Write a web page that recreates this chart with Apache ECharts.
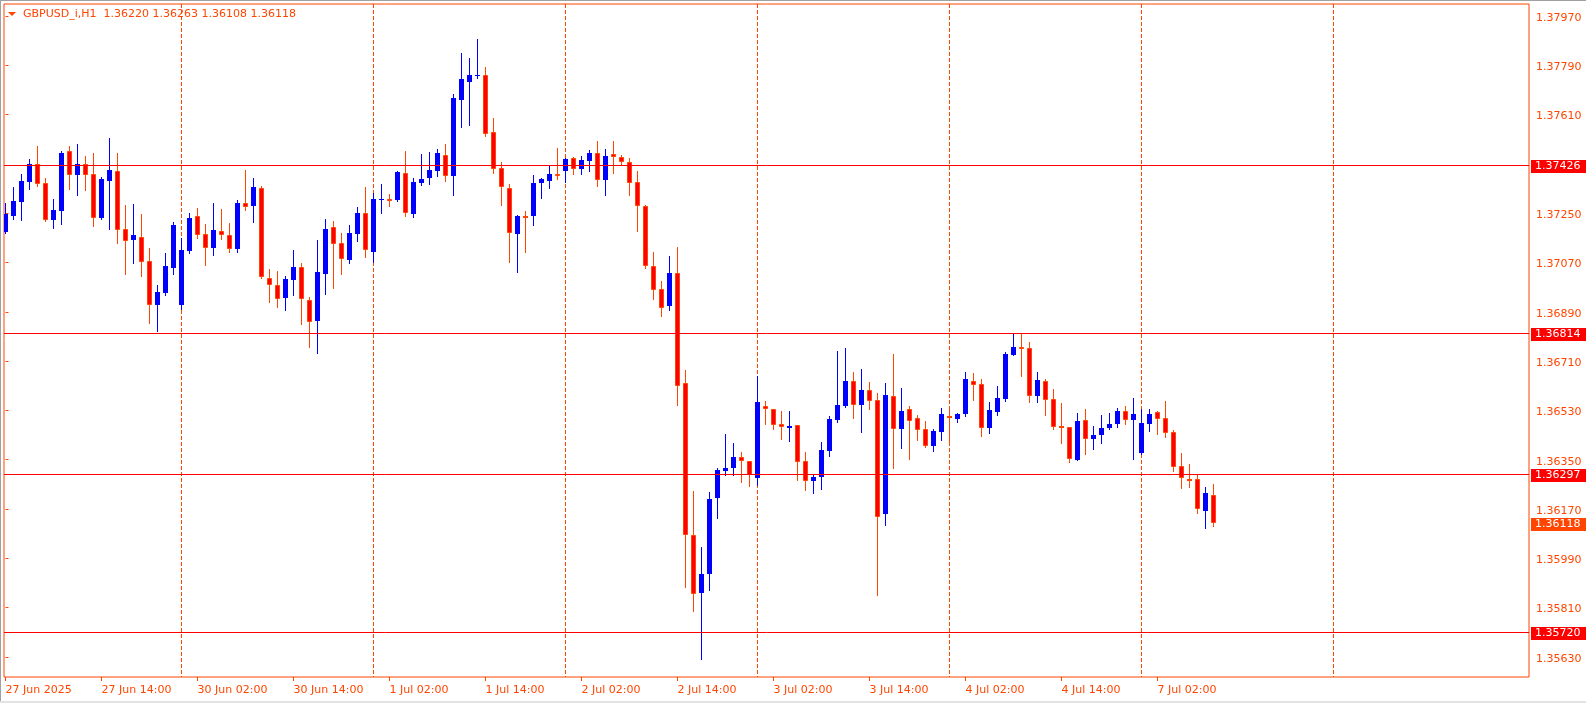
<!DOCTYPE html>
<html><head><meta charset="utf-8">
<script src="https://cdn.jsdelivr.net/npm/echarts@6/dist/echarts.min.js"></script>
<style>html,body{margin:0;padding:0;background:#fff;overflow:hidden}#c{width:1586px;height:703px;}</style>
</head><body><div id="c"></div>
<script>
const symbolName = 'GBPUSD_i,H1';
// hourly OHLC, bar 0 = 27 Jun 2025 02:00
const opens = [1.37181,1.37240,1.37291,1.37364,1.37430,1.37361,1.37226,1.37259,1.37478,1.37390,
1.37430,1.37394,1.37233,1.37368,1.37405,1.37193,1.37153,1.37164,1.37076,1.36915,
1.36959,1.37050,1.36915,1.37112,1.37240,1.37175,1.37124,1.37186,1.37171,1.37120,
1.37288,1.37277,1.37343,1.37014,1.36988,1.36942,1.37007,1.37054,1.36934,1.36857,
1.37029,1.37200,1.37142,1.37080,1.37175,1.37251,1.37110,1.37301,1.37302,1.37299,
1.37397,1.37248,1.37361,1.37379,1.37405,1.37463,1.37386,1.37664,1.37730,1.37754,
1.37755,1.37547,1.37416,1.37343,1.37175,1.37240,1.37240,1.37361,1.37368,1.37394,
1.37405,1.37452,1.37412,1.37441,1.37469,1.37373,1.37466,1.37455,1.37436,1.37364,
1.37277,1.37056,1.36975,1.36910,1.37032,1.36629,1.36075,1.35864,1.35933,1.36210,
1.36309,1.36320,1.36361,1.36345,1.36285,1.36546,1.36534,1.36480,1.36467,1.36476,
1.36345,1.36274,1.36288,1.36383,1.36495,1.36546,1.36638,1.36551,1.36605,1.36568,
1.36150,1.36583,1.36463,1.36536,1.36503,1.36462,1.36400,1.36452,1.36509,1.36499,
1.36517,1.36638,1.36627,1.36467,1.36525,1.36572,1.36734,1.36761,1.36758,1.36583,
1.36638,1.36572,1.36473,1.36470,1.36350,1.36495,1.36427,1.36442,1.36467,1.36482,
1.36528,1.36494,1.36376,1.36482,1.36525,1.36503,1.36452,1.36327,1.36280,1.36279,
1.36164,1.36220];
const highs = [1.37288,1.37346,1.37394,1.37448,1.37496,1.37379,1.37302,1.37478,1.37496,1.37503,
1.37459,1.37470,1.37383,1.37525,1.37470,1.37281,1.37284,1.37248,1.37124,1.36988,
1.37105,1.37218,1.37160,1.37251,1.37270,1.37211,1.37288,1.37266,1.37215,1.37299,
1.37408,1.37379,1.37350,1.37047,1.37040,1.37021,1.37116,1.37069,1.36945,1.37153,
1.37229,1.37222,1.37178,1.37207,1.37273,1.37346,1.37324,1.37357,1.37321,1.37405,
1.37478,1.37379,1.37467,1.37474,1.37485,1.37503,1.37686,1.37836,1.37817,1.37887,
1.37785,1.37598,1.37438,1.37357,1.37244,1.37259,1.37390,1.37379,1.37427,1.37489,
1.37452,1.37456,1.37459,1.37481,1.37514,1.37484,1.37514,1.37462,1.37451,1.37405,
1.37281,1.37107,1.37004,1.37092,1.37128,1.36676,1.36235,1.36030,1.36231,1.36320,
1.36443,1.36410,1.36377,1.36346,1.36656,1.36565,1.36535,1.36528,1.36528,1.36476,
1.36379,1.36293,1.36415,1.36510,1.36747,1.36758,1.36671,1.36682,1.36634,1.36594,
1.36630,1.36736,1.36612,1.36546,1.36514,1.36492,1.36462,1.36539,1.36546,1.36521,
1.36671,1.36667,1.36645,1.36561,1.36620,1.36744,1.36813,1.36813,1.36780,1.36671,
1.36645,1.36609,1.36557,1.36470,1.36521,1.36536,1.36473,1.36514,1.36521,1.36539,
1.36546,1.36576,1.36536,1.36536,1.36528,1.36565,1.36459,1.36375,1.36335,1.36297,
1.36251,1.36263];
const lows = [1.37178,1.37229,1.37226,1.37339,1.37350,1.37222,1.37196,1.37211,1.37339,1.37317,
1.37335,1.37205,1.37229,1.37193,1.37142,1.37029,1.37069,1.37021,1.36850,1.36820,
1.36952,1.37029,1.36901,1.37105,1.37161,1.37061,1.37098,1.37156,1.37109,1.37109,
1.37262,1.37218,1.37014,1.36926,1.36908,1.36897,1.36952,1.36846,1.36762,1.36740,
1.36956,1.36977,1.37029,1.37069,1.37149,1.37091,1.37072,1.37251,1.37277,1.37295,
1.37240,1.37237,1.37354,1.37357,1.37386,1.37368,1.37317,1.37565,1.37573,1.37744,
1.37533,1.37397,1.37281,1.37072,1.37036,1.37109,1.37207,1.37306,1.37343,1.37375,
1.37364,1.37394,1.37394,1.37405,1.37351,1.37318,1.37396,1.37425,1.37318,1.37186,
1.37049,1.36935,1.36873,1.36895,1.36548,1.35885,1.35799,1.35622,1.35874,1.36136,
1.36295,1.36294,1.36268,1.36255,1.36256,1.36481,1.36463,1.36426,1.36419,1.36277,
1.36241,1.36230,1.36244,1.36365,1.36489,1.36543,1.36503,1.36452,1.36536,1.35856,
1.36113,1.36321,1.36394,1.36354,1.36422,1.36397,1.36382,1.36422,1.36405,1.36489,
1.36510,1.36568,1.36437,1.36448,1.36514,1.36565,1.36733,1.36656,1.36561,1.36561,
1.36514,1.36462,1.36411,1.36343,1.36350,1.36372,1.36390,1.36412,1.36463,1.36471,
1.36482,1.36354,1.36371,1.36456,1.36445,1.36434,1.36307,1.36248,1.36252,1.36157,
1.36102,1.36108];
const closes = [1.37248,1.37295,1.37368,1.37430,1.37358,1.37225,1.37262,1.37471,1.37391,1.37430,
1.37391,1.37234,1.37375,1.37408,1.37187,1.37150,1.37171,1.37073,1.36916,1.36963,
1.37058,1.37207,1.37116,1.37233,1.37172,1.37124,1.37189,1.37172,1.37120,1.37288,
1.37274,1.37346,1.37018,1.36989,1.36938,1.37010,1.37054,1.36935,1.36853,1.37036,
1.37193,1.37139,1.37081,1.37178,1.37251,1.37117,1.37302,1.37303,1.37296,1.37401,
1.37251,1.37364,1.37375,1.37408,1.37470,1.37386,1.37671,1.37741,1.37755,1.37756,
1.37540,1.37413,1.37344,1.37179,1.37241,1.37239,1.37361,1.37375,1.37394,1.37386,
1.37448,1.37413,1.37445,1.37470,1.37370,1.37459,1.37455,1.37436,1.37362,1.37275,
1.37057,1.36969,1.36903,1.37033,1.36619,1.36076,1.35860,1.35932,1.36205,1.36312,
1.36319,1.36361,1.36346,1.36296,1.36561,1.36534,1.36478,1.36471,1.36473,1.36343,
1.36274,1.36287,1.36386,1.36499,1.36550,1.36638,1.36548,1.36605,1.36566,1.36142,
1.36587,1.36463,1.36528,1.36493,1.36460,1.36400,1.36455,1.36517,1.36506,1.36517,
1.36645,1.36621,1.36467,1.36532,1.36576,1.36736,1.36762,1.36756,1.36583,1.36641,
1.36568,1.36470,1.36470,1.36354,1.36492,1.36427,1.36441,1.36466,1.36481,1.36528,
1.36494,1.36517,1.36484,1.36517,1.36498,1.36449,1.36325,1.36282,1.36278,1.36171,
1.36229,1.36118];
const timeLabels = ['27 Jun 2025','27 Jun 14:00','30 Jun 02:00','30 Jun 14:00','1 Jul 02:00','1 Jul 14:00',
  '2 Jul 02:00','2 Jul 14:00','3 Jul 02:00','3 Jul 14:00','4 Jul 02:00','4 Jul 14:00','7 Jul 02:00'];
const timeLabelBars = [0,12,24,36,48,60,72,84,96,108,120,132,144];
const daySeparatorBars = [22,46,70,94,118,142,166];
const priceTicks = [1.35630,1.35810,1.35990,1.36170,1.36350,1.36530,1.36710,1.36890,1.37070,1.37250,1.37610,1.37790,1.37970];
const levelLines = [1.37426,1.36814,1.36297,1.35720];

const TEXT = '#FF4500', BULL = '#0000FF', BEAR_FILL = '#FF0000', BEAR_LINE = '#FF4500', LEVEL = '#FF0000', BID = '#FF4500';
const FONT = '"DejaVu Sans", Tahoma, sans-serif';
const X_MIN = -0.1875, X_MAX = 190.4375;

const candleData = opens.map((o, i) => [i, o, closes[i], lows[i], highs[i]]);
const last = opens.length - 1;
const priceLabels = levelLines.concat([closes[last]]);

function renderCandle(params, api) {
  const i = api.value(0), o = api.value(1), c = api.value(2), l = api.value(3), h = api.value(4);
  const pO = api.coord([i, o]), pC = api.coord([i, c]), pH = api.coord([i, h]), pL = api.coord([i, l]);
  const x = Math.floor(pO[0]) + 0.5;
  const bull = c > o;
  const line = bull ? BULL : BEAR_LINE;
  const top = Math.round(Math.min(pO[1], pC[1])), bot = Math.round(Math.max(pO[1], pC[1]));
  const children = [{type: 'line', shape: {x1: x, y1: Math.round(pH[1]), x2: x, y2: Math.round(pL[1]) + 1},
    style: {stroke: line, lineWidth: 1}}];
  if (bull) {
    children.push({type: 'rect', shape: {x: x - 2.5, y: top, width: 5, height: Math.max(bot - top, 1)}, style: {fill: BULL}});
  } else if (bot - top < 2) {
    children.push({type: 'rect', shape: {x: x - 2.5, y: top, width: 5, height: 2}, style: {fill: BEAR_LINE}});
  } else {
    children.push({type: 'rect', shape: {x: x - 2, y: top + 0.5, width: 4, height: bot - top - 1},
      style: {fill: BEAR_FILL, stroke: BEAR_LINE, lineWidth: 1}});
  }
  const cs = params.coordSys;
  return {type: 'group', children: children,
    clipPath: {type: 'rect', shape: {x: cs.x, y: cs.y, width: cs.width, height: cs.height}}};
}

function renderSeparator(params, api) {
  const cs = params.coordSys;
  const p = api.coord([api.value(0), 1.37]);
  const x = Math.floor(p[0]) + 0.5;
  return {type: 'line', shape: {x1: x, y1: cs.y, x2: x, y2: cs.y + cs.height},
    style: {stroke: TEXT, lineWidth: 1, lineDash: [4, 2]}};
}

function renderPriceLabel(params, api) {
  const cs = params.coordSys;
  const v = api.value(0);
  const p = api.coord([X_MIN, v]);
  const y = Math.round(p[1]);
  const isBid = params.dataIndex >= levelLines.length;
  const boxX = cs.x + cs.width + 2;
  const children = [];
  if (!isBid) {
    children.push({type: 'line', shape: {x1: cs.x, y1: y + 0.5, x2: cs.x + cs.width, y2: y + 0.5},
      style: {stroke: LEVEL, lineWidth: 1}});
  }
  children.push({type: 'rect', shape: {x: boxX, y: y - 5, width: 1586 - boxX, height: 13},
    style: {fill: isBid ? BID : LEVEL}});
  children.push({type: 'text', style: {text: v.toFixed(5), x: boxX + 4, y: y + 1.5,
    fill: '#fff', font: '11px ' + FONT, textAlign: 'left', textVerticalAlign: 'middle', align: 'left', verticalAlign: 'middle'}});
  return {type: 'group', children: children};
}

const chart = echarts.init(document.getElementById('c'), null, {renderer: 'canvas'});
chart.setOption({
  animation: false,
  backgroundColor: '#fff',
  title: {
    text: symbolName + '  ' + [opens[last], highs[last], lows[last], closes[last]].map(v => v.toFixed(5)).join(' '),
    left: 23, top: 8, padding: 0,
    textStyle: {color: TEXT, fontSize: 11, fontWeight: 'normal', fontFamily: FONT, lineHeight: 13}
  },
  graphic: [
    {type: 'polygon', shape: {points: [[8, 12], [16, 12], [12, 16]]}, style: {fill: TEXT}},
    {type: 'rect', shape: {x: 0, y: 0, width: 1586, height: 1}, style: {fill: '#a0a0a0'}},
    {type: 'rect', shape: {x: 0, y: 0, width: 1, height: 703}, style: {fill: '#a0a0a0'}},
    {type: 'rect', shape: {x: 0, y: 701, width: 1586, height: 2}, style: {fill: '#e3e3e3'}}
  ],
  grid: {left: 4, top: 4, right: 57, bottom: 26, show: true, borderColor: TEXT, borderWidth: 1, backgroundColor: '#fff'},
  xAxis: {
    type: 'value', min: X_MIN, max: X_MAX,
    axisLine: {show: false}, splitLine: {show: false},
    axisTick: {show: true, customValues: timeLabelBars, length: 4, lineStyle: {color: TEXT}},
    axisLabel: {customValues: timeLabelBars, formatter: v => timeLabels[timeLabelBars.indexOf(v)],
      align: 'left', margin: 8, color: TEXT, fontSize: 11, fontFamily: FONT}
  },
  yAxis: {
    type: 'value', position: 'right', min: 1.355567, max: 1.380138,
    axisLine: {show: false}, splitLine: {show: false},
    axisTick: {show: true, customValues: priceTicks, length: 3, lineStyle: {color: TEXT}},
    axisLabel: {customValues: priceTicks, formatter: v => '{p|' + v.toFixed(5) + '}', margin: 7,
      color: TEXT, fontSize: 11, fontFamily: FONT,
      rich: {p: {color: TEXT, fontSize: 11, fontFamily: FONT, padding: [4, 0, 0, 0]}}}
  },
  series: [
    {type: 'custom', renderItem: renderSeparator, data: daySeparatorBars.map(b => [b]),
      dimensions: ['bar'], encode: {x: 0}, z: 1, silent: true},
    {type: 'custom', renderItem: renderCandle, data: candleData,
      dimensions: ['bar', 'open', 'close', 'low', 'high'],
      encode: {x: 0, y: [1, 2, 3, 4]}, z: 2, silent: true},
    {type: 'custom', renderItem: renderPriceLabel, data: priceLabels.map(v => [v]),
      dimensions: ['price'], encode: {y: 0}, z: 3, silent: true}
  ]
});
</script></body></html>
